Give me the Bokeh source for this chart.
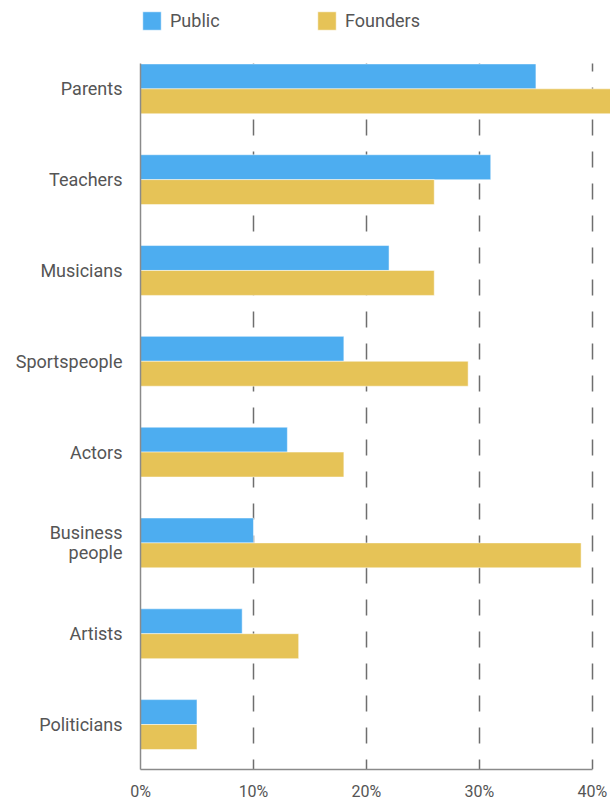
from bokeh.plotting import figure
from bokeh.models import (ColumnDataSource, Range1d, FixedTicker, PrintfTickFormatter,
                          Legend, LegendItem)
from bokeh.transform import dodge
from bokeh.embed import file_html
from bokeh.resources import INLINE

# ---- data (top to bottom) ----
categories = ["Parents", "Teachers", "Musicians", "Sportspeople", "Actors",
              "Business people", "Artists", "Politicians"]
category_labels = ["Parents", "Teachers", "Musicians", "Sportspeople", "Actors",
                   "Business\npeople", "Artists", "Politicians"]
public = [35, 31, 22, 18, 13, 10, 9, 5]
founders = [42, 26, 26, 29, 18, 39, 14, 5]
x_ticks = [0, 10, 20, 30, 40]
series_names = ["Public", "Founders"]
colors = ["#4DADF0", "#E6C357"]

FONT = "Roboto"
TEXT = "#555555"

positions = list(range(len(categories)))
src = ColumnDataSource(dict(pos=positions, cat=categories,
                            public=public, founders=founders))

X_END = 41.6
p = figure(width=610, height=803, output_backend="svg", toolbar_location=None,
           x_range=Range1d(0, X_END), y_range=Range1d(7.495, -0.973),
           min_border_left=140, min_border_right=0, min_border_top=0,
           min_border_bottom=32)
p.outline_line_color = None
p.background_fill_color = "white"
p.border_fill_color = "white"

BAR_H = 0.275
OFF = 0.137
r1 = p.hbar(y=dodge("pos", -OFF, range=p.y_range), left=0, right="public",
            height=BAR_H, source=src, fill_color=colors[0],
            line_color="white", line_alpha=0.5, line_width=1)
r2 = p.hbar(y=dodge("pos", OFF, range=p.y_range), left=0, right="founders",
            height=BAR_H, source=src, fill_color=colors[1],
            line_color="white", line_alpha=0.5, line_width=1)

# grid
p.ygrid.visible = False
p.xgrid.ticker = FixedTicker(ticks=x_ticks[1:])
p.xgrid.grid_line_color = "#6e6e6e"
p.xgrid.grid_line_width = 1.5
p.xgrid.grid_line_dash = "16 16"
p.xgrid.grid_line_dash_offset = 8
p.xgrid.cross_bounds = (-BAR_H, 7.495)

# x axis
xa = p.xaxis[0]
xa.ticker = FixedTicker(ticks=x_ticks)
xa.formatter = PrintfTickFormatter(format="%d%%")
xa.bounds = (0, 40)
xa.axis_line_color = "#8a8a8a"
xa.axis_line_width = 1.5
xa.major_tick_line_color = None
xa.minor_tick_line_color = None
xa.major_tick_out = 0
xa.major_tick_in = 0
xa.major_label_standoff = 12
xa.major_label_text_font = FONT
xa.major_label_text_font_size = "16px"
xa.major_label_text_color = TEXT

# y axis: multi-line category labels are split into right-aligned lines
LINE_STEP = 0.22  # one text line, in category units
tick_pos = []
overrides = {}
for i, lab in zip(positions, category_labels):
    lines = lab.split("\n")
    n = len(lines)
    for k, line in enumerate(lines):
        t = round(i + (k - (n - 1) / 2) * LINE_STEP, 4)
        tick_pos.append(t)
        overrides[t] = line

ya = p.yaxis[0]
ya.ticker = FixedTicker(ticks=tick_pos)
ya.major_label_overrides = overrides
ya.bounds = (-BAR_H, 7.495)
ya.axis_line_color = "#8a8a8a"
ya.axis_line_width = 1.5
ya.major_tick_line_color = None
ya.minor_tick_line_color = None
ya.major_tick_out = 0
ya.major_tick_in = 0
ya.major_label_standoff = 18
ya.major_label_text_font = FONT
ya.major_label_text_font_size = "18px"
ya.major_label_text_color = TEXT

legend = Legend(items=[LegendItem(label=series_names[0], renderers=[r1]),
                       LegendItem(label=series_names[1], renderers=[r2])],
                orientation="horizontal", location=(0, 737),
                glyph_width=23, glyph_height=23, label_height=23,
                label_width=145, label_standoff=7, spacing=0,
                padding=0, margin=0, border_line_alpha=0,
                background_fill_alpha=0,
                label_text_font=FONT, label_text_font_size="18px",
                label_text_color=TEXT)
p.add_layout(legend)

open("out.html", "w").write(file_html(p, INLINE))
